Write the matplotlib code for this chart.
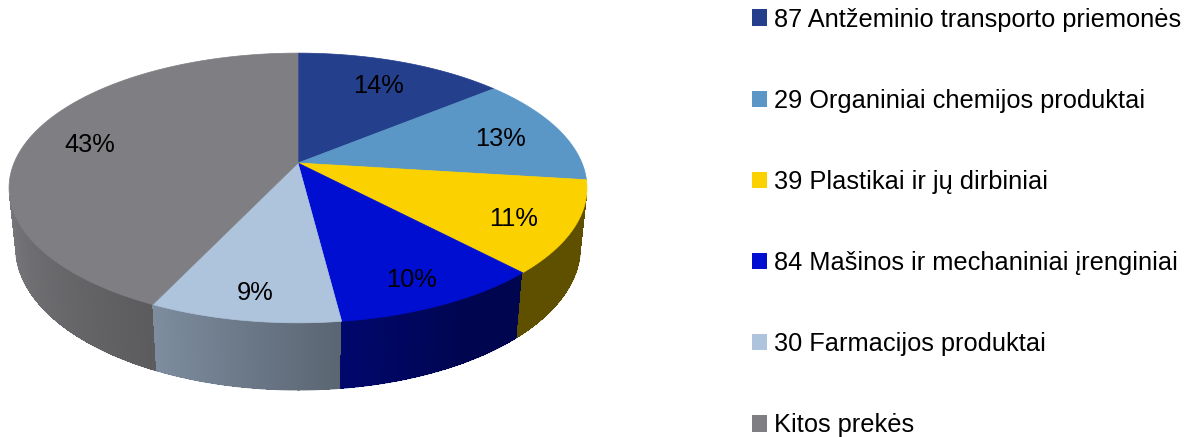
import numpy as np
import matplotlib.pyplot as plt
from matplotlib.patches import Patch, Polygon
from matplotlib.collections import PolyCollection, LineCollection
from matplotlib.colors import to_rgb

plt.rcParams["font.family"] = ["Liberation Sans", "DejaVu Sans"]

categories = [
    "87 Antžeminio transporto priemonės",
    "29 Organiniai chemijos produktai",
    "39 Plastikai ir jų dirbiniai",
    "84 Mašinos ir mechaniniai įrenginiai",
    "30 Farmacijos produktai",
    "Kitos prekės",
]
shares = [14, 13, 11, 10, 9, 43]
colors = ["#243F8C", "#5A96C6", "#FBD200", "#000ED2", "#AEC3DC", "#7F7F83"]

W, H = 1186, 437
fig = plt.figure(figsize=(W / 100, H / 100), dpi=100)
ax = fig.add_axes([0, 0, 1, 1])
ax.set_xlim(0, W)
ax.set_ylim(H, 0)
ax.axis("off")

# perspective view of a unit disc; screen units are pixels
CX, CY = 298, 163
FOCAL, DIST = 1363, 4.8
ELEV = np.radians(27.3)
DEPTH = 0.237


def project(t, r=1.0, z=0.0):
    x, y = r * np.cos(t), r * np.sin(t)
    c, s = np.cos(ELEV), np.sin(ELEV)
    d = DIST + y * c - z * s
    return CX + FOCAL * x / d, CY - FOCAL * (y * s + z * c) / d


# slices start at 12 o'clock and run clockwise
edges = np.radians(90 - 3.6 * np.concatenate([[0], np.cumsum(shares)]))


def slice_of(t):
    return np.searchsorted(-edges, -t) - 1


def wall_colour(t):
    k = np.interp(np.degrees(t) % 360, [160, 195, 245, 277, 300, 360],
                  [0.95, 0.94, 0.72, 0.52, 0.38, 0.38])
    return tuple(np.array(to_rgb(colors[slice_of(t)])) * k)


# side wall between the two silhouette lines of the cylinder
sil = np.arcsin(1 / (DIST * np.cos(ELEV)))
lo, hi = -np.pi + sil, -sil
ts = np.unique(np.concatenate([np.linspace(lo, hi, 900),
                               edges[(edges > lo) & (edges < hi)]]))
polys, fcols = [], []
for t0, t1 in zip(ts[:-1], ts[1:]):
    x0, y0 = project(t0)
    x1, y1 = project(t1)
    x2, y2 = project(t1, z=-DEPTH)
    x3, y3 = project(t0, z=-DEPTH)
    polys.append([(x0, y0), (x1, y1), (x2, y2), (x3, y3)])
    fcols.append(wall_colour(0.5 * (t0 + t1)))
ax.add_collection(PolyCollection(polys, facecolors=fcols, edgecolors="none",
                                 linewidths=0, antialiased=False))
# soft lower rim
bx, by = project(ts, z=-DEPTH)
segs = [[(bx[j], by[j]), (bx[j + 1], by[j + 1])] for j in range(len(ts) - 1)]
ax.add_collection(LineCollection(segs, colors=fcols, linewidths=0.8))

# probe font size so the longest legend entry is as wide as in the original
probe = ax.text(0, 0, categories[0], fontsize=20)
wpx = probe.get_window_extent(fig.canvas.get_renderer()).width
probe.remove()
fs = 20 * 406 / wpx

# top face
for i, share in enumerate(shares):
    arc = np.linspace(edges[i], edges[i + 1], 200)
    px, py = project(arc)
    verts = [(CX, CY)] + list(zip(px, py))
    ax.add_patch(Polygon(verts, closed=True, fc=colors[i], ec=colors[i], lw=0.5))
    mid = 0.5 * (edges[i] + edges[i + 1])
    rx, ry = project(mid)
    ax.text(CX + 0.78 * (rx - CX), CY + 0.8 * (ry - CY) + 4, f"{share}%",
            ha="center", va="center", fontsize=fs, color="black")

handles = [Patch(facecolor=c, edgecolor="none") for c in colors]
ax.legend(handles, categories, loc="center left",
          bbox_to_anchor=(752 / W, 1 - 222.5 / H), bbox_transform=fig.transFigure,
          frameon=False, fontsize=fs, handlelength=0.6, handleheight=0.6,
          handletextpad=0.25, labelspacing=2.25, borderpad=0, borderaxespad=0)

fig.savefig("out.png", dpi=100)
